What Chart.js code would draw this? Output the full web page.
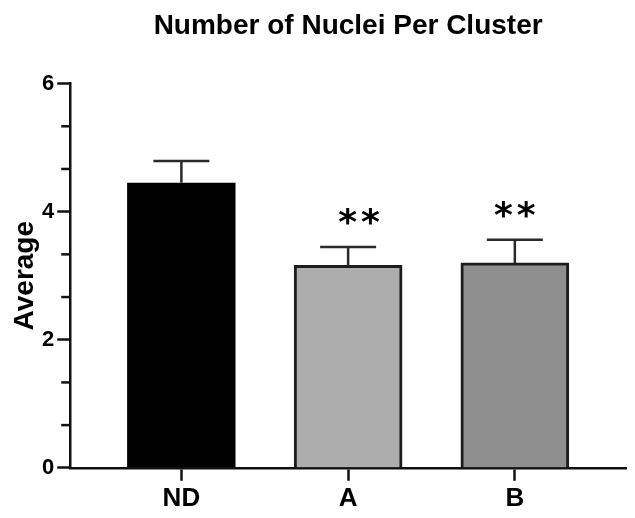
<!DOCTYPE html>
<html>
<head>
<meta charset="utf-8">
<script src="https://cdn.jsdelivr.net/npm/chart.js@4"></script>
<style>
  html, body { margin: 0; padding: 0; background: #fff; }
</style>
</head>
<body>
<canvas id="nucleiChart" width="635" height="518"></canvas>
<script>
// group names, means and SEM per group
var groups = ['ND', 'A', 'B'];
var means = [4.45, 3.16, 3.20];
var sem = [0.34, 0.29, 0.36];
var stars = ['', '**', '**'];
var yTicks = [0, 2, 4, 6];
var yMinorStep = 2 / 3;

var barColors = ['#000000', '#adadad', '#8f8f8f'];
var edgeColors = ['#000000', '#1c1c1c', '#1c1c1c'];

Chart.defaults.font.family = '"Liberation Sans", Arial, sans-serif';
Chart.defaults.color = '#000';

// SEM whiskers (upper only) and the significance marks above them
var errorBars = {
    id: 'errorBars',
    afterDatasetsDraw: function(chart, args, opts) {
        var ctx = chart.ctx;
        var xs = chart.scales.x, ys = chart.scales.y;
        ctx.save();
        ctx.strokeStyle = '#2a2a2a';
        ctx.lineWidth = 2.5;
        for (var i = 0; i < means.length; i++) {
            var x = xs.getPixelForValue(i + 1);
            var yTop = ys.getPixelForValue(means[i]);
            var yCap = ys.getPixelForValue(means[i] + sem[i]);
            ctx.beginPath();
            ctx.moveTo(x, yTop);
            ctx.lineTo(x, yCap);
            ctx.moveTo(x - opts.capHalf, yCap);
            ctx.lineTo(x + opts.capHalf, yCap);
            ctx.stroke();

            if (stars[i]) {
                ctx.font = opts.starFont;
                ctx.letterSpacing = opts.starSpacing + 'px';
                ctx.fillStyle = '#000';
                ctx.textAlign = 'center';
                ctx.textBaseline = 'alphabetic';
                var m = ctx.measureText(stars[i]);
                var yc = yCap - opts.starGap;
                var base = yc + (m.actualBoundingBoxAscent - m.actualBoundingBoxDescent) / 2;
                ctx.fillText(stars[i], x + opts.starShift[i] + opts.starSpacing / 2, base);
            }
        }
        ctx.restore();
    }
};

// short minor ticks between the labelled y ticks
var minorTicks = {
    id: 'minorTicks',
    afterDraw: function(chart, args, opts) {
        var ctx = chart.ctx;
        var ys = chart.scales.y;
        var x0 = chart.chartArea.left;
        ctx.save();
        ctx.strokeStyle = '#111';
        ctx.lineWidth = 2.5;
        for (var k = 0; k * yMinorStep <= ys.max + 1e-6; k++) {
            if (k % 3 === 0) continue;
            var y = ys.getPixelForValue(k * yMinorStep);
            ctx.beginPath();
            ctx.moveTo(x0 - opts.length, y);
            ctx.lineTo(x0, y);
            ctx.stroke();
        }
        ctx.restore();
    }
};

var ctx = document.getElementById('nucleiChart');
var nucleiChart = new Chart(ctx, {
    type: 'bar',
    data: {
        datasets: [
            {
                data: groups.map(function(g, i) { return { x: i + 1, y: means[i] }; }),
                backgroundColor: barColors,
                borderColor: edgeColors,
                borderWidth: 3,
                barThickness: 108
            }
        ]
    },
    options: {
        responsive: false,
        animation: false,
        layout: {
            padding: { left: 2, right: 9, top: 9, bottom: 2 }
        },
        scales: {
            x: {
                type: 'linear',
                offset: false,
                min: 1 / 3,
                max: 11 / 3,
                afterBuildTicks: function(scale) {
                    scale.ticks = groups.map(function(g, i) { return { value: i + 1 }; });
                },
                ticks: {
                    autoSkip: false,
                    maxRotation: 0,
                    padding: 2,
                    font: { size: 26, weight: 'bold' },
                    callback: function(value) {
                        return groups[Math.round(value) - 1] || '';
                    }
                },
                grid: {
                    offset: false,
                    drawOnChartArea: false,
                    tickLength: 13,
                    tickWidth: 2.5,
                    tickColor: '#111'
                },
                border: { color: '#111', width: 2.5 }
            },
            y: {
                min: 0,
                max: 6,
                afterBuildTicks: function(scale) {
                    scale.ticks = yTicks.map(function(v) { return { value: v }; });
                },
                ticks: {
                    padding: 3,
                    font: { size: 22, weight: 'bold' }
                },
                grid: {
                    drawOnChartArea: false,
                    tickLength: 13,
                    tickWidth: 2.5,
                    tickColor: '#111'
                },
                border: { color: '#111', width: 2.5 },
                title: {
                    display: true,
                    text: 'Average',
                    font: { size: 28, weight: 'bold', lineHeight: 1 },
                    padding: { top: 9, bottom: 0 }
                }
            }
        },
        plugins: {
            legend: { display: false },
            tooltip: { enabled: false },
            title: {
                display: true,
                fullSize: false,
                text: 'Number of Nuclei Per Cluster',
                font: { size: 28, weight: 'bold' },
                padding: { top: 0, bottom: 41 }
            },
            errorBars: {
                capHalf: 28,
                starGap: 30,
                starFont: 'bold 36px "DejaVu Sans"',
                starSpacing: 4,
                starShift: [0, 11, 0]
            },
            minorTicks: { length: 9 }
        }
    },
    plugins: [errorBars, minorTicks]
});
</script>
</body>
</html>
